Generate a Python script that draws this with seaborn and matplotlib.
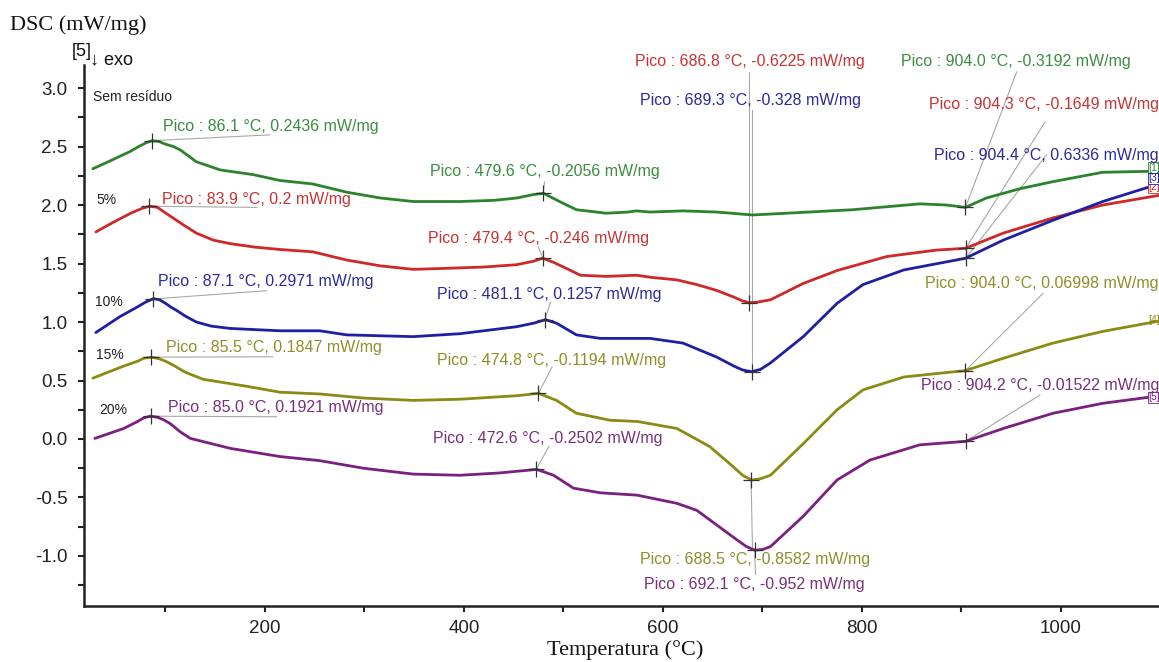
import numpy as np
import pandas as pd
import matplotlib
matplotlib.use("Agg")
import matplotlib.pyplot as plt
from matplotlib.ticker import MultipleLocator
import seaborn as sns

# ---------------- data ----------------
T_green = [27, 45, 65, 72, 80, 86, 93, 100, 108, 115, 131, 155, 188, 215, 248, 282, 316, 349,
           396, 430, 453, 470, 480, 496, 513, 543, 565, 573, 587, 620, 654, 690, 724, 791, 858,
           885, 904, 925, 959, 992, 1042, 1100]
y_green = [2.31, 2.38, 2.46, 2.495, 2.53, 2.55, 2.545, 2.52, 2.50, 2.47, 2.37, 2.30, 2.26, 2.21,
           2.18, 2.11, 2.06, 2.03, 2.03, 2.04, 2.06, 2.09, 2.10, 2.03, 1.96, 1.93, 1.94, 1.95,
           1.94, 1.95, 1.94, 1.915, 1.93, 1.96, 2.01, 2.00, 1.98, 2.06, 2.14, 2.20, 2.28, 2.29]

T_red = [30, 47, 65, 76, 84, 92, 97, 104, 118, 131, 148, 165, 190, 215, 248, 282, 316, 349, 386,
         420, 453, 470, 479, 490, 500, 517, 543, 573, 590, 614, 634, 654, 672, 680, 687, 695,
         708, 741, 775, 825, 875, 904, 942, 992, 1042, 1100]
y_red = [1.77, 1.85, 1.93, 1.97, 1.99, 1.98, 1.95, 1.91, 1.83, 1.76, 1.70, 1.67, 1.64, 1.62,
         1.60, 1.53, 1.48, 1.45, 1.46, 1.47, 1.49, 1.52, 1.545, 1.51, 1.47, 1.40, 1.39, 1.40,
         1.38, 1.36, 1.32, 1.27, 1.21, 1.18, 1.165, 1.17, 1.19, 1.33, 1.44, 1.56, 1.615, 1.63,
         1.76, 1.89, 2.00, 2.085]

T_blue = [30, 54, 72, 80, 88, 94, 100, 105, 111, 120, 131, 146, 165, 215, 255, 282, 349, 396,
          453, 470, 482, 493, 513, 537, 587, 620, 654, 672, 680, 689, 698, 708, 741, 775, 801,
          842, 904, 942, 992, 1042, 1100]
y_blue = [0.91, 1.045, 1.13, 1.17, 1.20, 1.19, 1.16, 1.13, 1.10, 1.05, 1.00, 0.965, 0.945,
          0.925, 0.925, 0.89, 0.875, 0.90, 0.96, 0.99, 1.02, 0.99, 0.89, 0.86, 0.86, 0.82, 0.70,
          0.62, 0.59, 0.575, 0.595, 0.65, 0.875, 1.16, 1.32, 1.445, 1.545, 1.70, 1.87, 2.03,
          2.185]

T_olive = [27, 57, 72, 78, 86, 94, 100, 108, 120, 138, 182, 215, 255, 299, 349, 396, 453, 475,
           493, 513, 547, 574, 614, 647, 671, 680, 689, 698, 708, 741, 775, 801, 842, 904, 942,
           992, 1042, 1100]
y_olive = [0.52, 0.62, 0.665, 0.69, 0.70, 0.685, 0.665, 0.63, 0.57, 0.51, 0.45, 0.40, 0.385,
           0.35, 0.33, 0.34, 0.37, 0.39, 0.33, 0.22, 0.16, 0.15, 0.09, -0.065, -0.24, -0.31,
           -0.35, -0.34, -0.31, -0.04, 0.25, 0.42, 0.53, 0.585, 0.69, 0.82, 0.92, 1.01]

T_purple = [29, 58, 72, 78, 85, 92, 98, 105, 115, 125, 165, 215, 255, 299, 349, 396, 436, 473,
            490, 510, 537, 574, 614, 634, 654, 674, 684, 692, 700, 708, 741, 775, 808, 858, 904,
            942, 992, 1042, 1100]
y_purple = [0.005, 0.09, 0.15, 0.18, 0.195, 0.185, 0.165, 0.13, 0.06, 0.005, -0.08, -0.15,
            -0.185, -0.25, -0.30, -0.31, -0.29, -0.26, -0.31, -0.42, -0.46, -0.48, -0.55, -0.61,
            -0.735, -0.86, -0.92, -0.95, -0.945, -0.92, -0.66, -0.35, -0.18, -0.05, -0.02, 0.09,
            0.22, 0.305, 0.37]

series_names = ["Sem resíduo", "5%", "10%", "15%", "20%"]
series_tags = ["[1]", "[2]", "[3]", "[4]", "[5]"]

# peak temperatures and instrument readouts
peaks_green = [("86.1", "0.2436"), ("479.6", "-0.2056"), ("904.0", "-0.3192")]
peaks_red = [("83.9", "0.2"), ("479.4", "-0.246"), ("686.8", "-0.6225"), ("904.3", "-0.1649")]
peaks_blue = [("87.1", "0.2971"), ("481.1", "0.1257"), ("689.3", "-0.328"), ("904.4", "0.6336")]
peaks_olive = [("85.5", "0.1847"), ("474.8", "-0.1194"), ("688.5", "-0.8582"), ("904.0", "0.06998")]
peaks_purple = [("85.0", "0.1921"), ("472.6", "-0.2502"), ("692.1", "-0.952"), ("904.2", "-0.01522")]

# ---------------- style ----------------
line_colors = ["#2b842b", "#cf2828", "#1f1fa3", "#8a8a14", "#7b1f80"]
text_colors = ["#3a8c3f", "#c83232", "#2a2a9a", "#8e8e2a", "#78307a"]

sns.set_style("ticks")
plt.rcParams['font.family'] = ['Liberation Sans', 'DejaVu Sans']

W, H = 1159, 662
fig = plt.figure(figsize=(W / 100, H / 100), dpi=100)
ax = fig.add_axes([84 / W, 1 - 605.7 / H, (W - 84) / W, (605.7 - 65) / H])

Ts = [T_green, T_red, T_blue, T_olive, T_purple]
Ys = [y_green, y_red, y_blue, y_olive, y_purple]
Ps = [peaks_green, peaks_red, peaks_blue, peaks_olive, peaks_purple]

frames = []
for name, T, Y in zip(series_names, Ts, Ys):
    frames.append(pd.DataFrame({"T": T, "DSC": Y, "amostra": name}))
df = pd.concat(frames, ignore_index=True)

sns.lineplot(data=df, x="T", y="DSC", hue="amostra", palette=line_colors,
             hue_order=series_names, ax=ax, lw=2.0, errorbar=None, legend=False)
for ln in ax.get_lines():
    ln.set_solid_joinstyle("round")

ax.set_xlim(18.1, 1098.5)
ax.set_ylim(-1.425, 3.197)
ax.xaxis.set_major_locator(MultipleLocator(200))
ax.xaxis.set_minor_locator(MultipleLocator(100))
ax.yaxis.set_major_locator(MultipleLocator(0.5))
ax.yaxis.set_minor_locator(MultipleLocator(0.25))
ax.set_yticks(np.arange(-1.0, 3.01, 0.5))
ax.set_yticklabels([f"{v:.1f}" for v in np.arange(-1.0, 3.01, 0.5)])
ax.tick_params(axis="both", which="both", direction="out", length=4, width=1.5,
               labelsize=13.5, color="#222222", labelcolor="#222222")
ax.tick_params(axis="y", pad=8)
ax.tick_params(axis="x", pad=6)
for s in ["top", "right"]:
    ax.spines[s].set_visible(False)
for s in ["left", "bottom"]:
    ax.spines[s].set_linewidth(1.8)
    ax.spines[s].set_color("#222222")
ax.set_xlabel("")
ax.set_ylabel("")

# ---------------- annotations (layout) ----------------
# per series: (text x, text y, ha, leader end x, leader end y)
layout = [
    [(97.5, 2.675, "left", 205, 2.60), (365.8, 2.29, "left", 481, 2.20),
     (838.9, 3.23, "left", 955.5, 3.14)],
    [(96.5, 2.043, "left", 191.6, 1.98), (363.8, 1.718, "left", 474.5, 1.645),
     (687.4, 3.23, "center", 686.8, 3.137), (867.3, 2.863, "left", 984, 2.71)],
    [(92.5, 1.35, "left", 201.7, 1.268), (372.9, 1.239, "left", 487.2, 1.173),
     (688.4, 2.897, "center", 689.3, 2.81), (872.4, 2.427, "left", 985.6, 2.43)],
    [(100.5, 0.778, "left", 208, 0.703), (372.9, 0.675, "left", 488.6, 0.618),
     (692.5, -1.034, "center", 690.0, -0.95), (863.3, 1.333, "left", 982, 1.245)],
    [(102.5, 0.265, "left", 211.7, 0.19), (368.8, 0.0085, "left", 485.5, -0.06),
     (691.5, -1.248, "center", 693.0, -1.16), (859, 0.46, "left", 979, 0.376)],
]

for T, Y, peaks, lay, tc in zip(Ts, Ys, Ps, layout, text_colors):
    for (pt, pv), (tx, ty, ha, lx, ly) in zip(peaks, lay):
        px = float(pt)
        py = float(np.interp(px, T, Y))
        ax.plot([px, lx], [py, ly], color="#a8a8a8", lw=0.8, zorder=1, clip_on=False)
        ax.plot([px], [py], marker="+", ms=11, mew=0.9, color="#333333", zorder=5)
        ax.text(tx, ty, f"Pico : {pt} °C, {pv} mW/mg", color=tc, fontsize=11.5,
                ha=ha, va="center", clip_on=False, zorder=6)

# series names at the left
name_pos = [(27, 2.92), (31, 2.04), (29, 1.17), (30.5, 0.72), (33, 0.25)]
for name, (x, y) in zip(series_names, name_pos):
    ax.text(x, y, name, fontsize=10, color="#222222", ha="left", va="center")

# curve tags at the right edge
tag_pos = [2.32, 2.15, 2.23, 1.02, 0.355]
for tag, y, tc in zip(series_tags, tag_pos, line_colors):
    ax.text(1088, y, tag, fontsize=7.5, color=tc, ha="left", va="center", clip_on=False,
            zorder=4,
            bbox=dict(boxstyle="square,pad=0.05", fc="white", ec=tc, lw=0.6)
            if tag != "[4]" else None)

# titles
fig.text(10 / W, 1 - 25 / H, "DSC (mW/mg)", fontsize=16, family="Liberation Serif",
         ha="left", va="center", color="#111111")
fig.text(625 / W, 1 - 650 / H, "Temperatura (°C)", fontsize=16, family="Liberation Serif",
         ha="center", va="center", color="#111111")
fig.text(72 / W, 1 - 52 / H, "[5]", fontsize=13, ha="left", va="center", color="#111111")
fig.text(90 / W, 1 - 60 / H, "↓ exo", fontsize=13, ha="left", va="center", color="#111111")

fig.savefig("out.png", dpi=100)
